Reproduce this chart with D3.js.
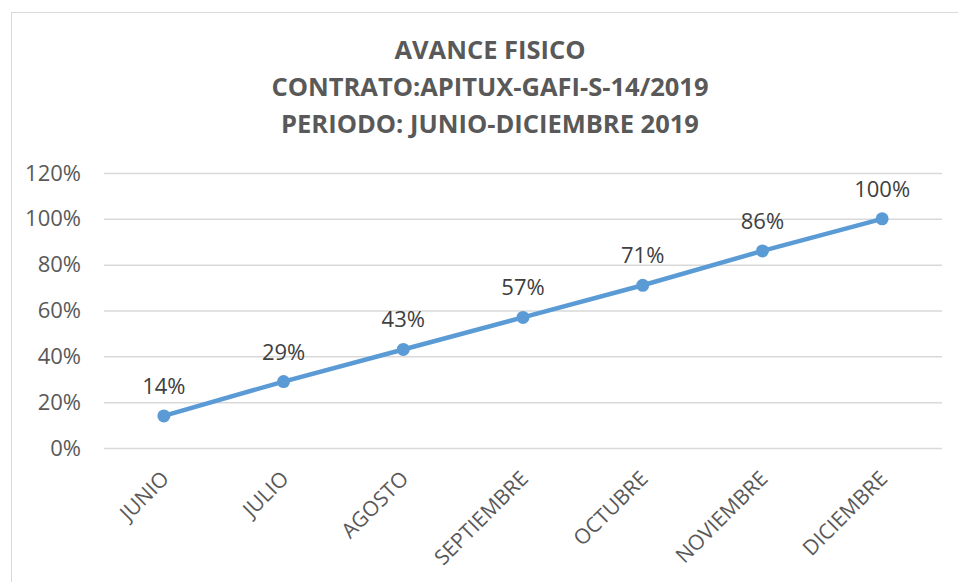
<!DOCTYPE html>
<html>
<head>
<meta charset="utf-8">
<script src="https://cdn.jsdelivr.net/npm/d3@7"></script>
<style>
  html, body { margin: 0; padding: 0; background: #fff; }
  svg { display: block; font-family: "Open Sans", sans-serif; }
</style>
</head>
<body>
<div id="chart"></div>
<script>
// data
const months = ["JUNIO", "JULIO", "AGOSTO", "SEPTIEMBRE", "OCTUBRE", "NOVIEMBRE", "DICIEMBRE"];
const avance = [0.14, 0.29, 0.43, 0.57, 0.71, 0.86, 1.00];
const yTicks = [0, 0.2, 0.4, 0.6, 0.8, 1.0, 1.2];
const titleLines = ["AVANCE FISICO", "CONTRATO:APITUX-GAFI-S-14/2019", "PERIODO: JUNIO-DICIEMBRE 2019"];

const width = 958, height = 582;
const plot = { left: 104, right: 942, top: 173, bottom: 448 };

const svg = d3.select('#chart')
  .append('svg')
  .attr('width', width)
  .attr('height', height);

// chart area border
svg.append('rect')
  .attr('x', 11.5)
  .attr('y', 12.5)
  .attr('width', width)
  .attr('height', height)
  .attr('fill', 'none')
  .attr('stroke', '#d9d9d9')
  .attr('stroke-width', 1);

const x = d3.scalePoint()
  .domain(months)
  .range([plot.left, plot.right])
  .padding(0.5);

const y = d3.scaleLinear()
  .domain([0, 1.2])
  .range([plot.bottom, plot.top]);

// title
svg.append('g')
  .selectAll('text')
  .data(titleLines)
  .join('text')
  .attr('x', 490)
  .attr('y', (d, i) => 59 + i * 37)
  .attr('text-anchor', 'middle')
  .style('font-size', '25.5px')
  .style('font-weight', 'bold')
  .style('fill', '#595959')
  .text(d => d);

// gridlines + y labels
const yAxis = d3.axisLeft(y)
  .tickValues(yTicks)
  .tickSize(-(plot.right - plot.left))
  .tickPadding(23)
  .tickFormat(d3.format('.0%'));

const gy = svg.append('g')
  .attr('transform', 'translate(' + plot.left + ',0)')
  .call(yAxis);
gy.select('.domain').remove();
gy.selectAll('line').attr('stroke', '#d9d9d9').attr('stroke-width', 1.5);
gy.selectAll('text')
  .style('font-size', '22px')
  .style('fill', '#595959')
  .style('font-family', '"Open Sans", sans-serif');

// x labels, rotated
const xAxis = d3.axisBottom(x).tickSize(0).tickPadding(0);
const gx = svg.append('g')
  .attr('transform', 'translate(0,' + plot.bottom + ')')
  .call(xAxis);
gx.select('.domain').remove();
gx.selectAll('text')
  .attr('text-anchor', 'end')
  .attr('dy', 0)
  .attr('transform', 'translate(6,32) rotate(-45)')
  .style('font-size', '21px')
  .style('fill', '#595959')
  .style('font-family', '"Open Sans", sans-serif');

// line
const line = d3.line()
  .x((d, i) => x(months[i]))
  .y(d => y(d));

svg.append('path')
  .datum(avance)
  .attr('d', line)
  .attr('fill', 'none')
  .attr('stroke', '#5b9bd5')
  .attr('stroke-width', 4.5)
  .attr('stroke-linecap', 'round');

svg.append('g')
  .selectAll('circle')
  .data(avance)
  .join('circle')
  .attr('cx', (d, i) => x(months[i]))
  .attr('cy', d => y(d))
  .attr('r', 6.5)
  .attr('fill', '#5b9bd5');

// data labels
svg.append('g')
  .selectAll('text')
  .data(avance)
  .join('text')
  .attr('x', (d, i) => x(months[i]))
  .attr('y', d => y(d) - 22)
  .attr('text-anchor', 'middle')
  .style('font-size', '22px')
  .style('fill', '#404040')
  .text(d => d3.format('.0%')(d));
</script>
</body>
</html>
